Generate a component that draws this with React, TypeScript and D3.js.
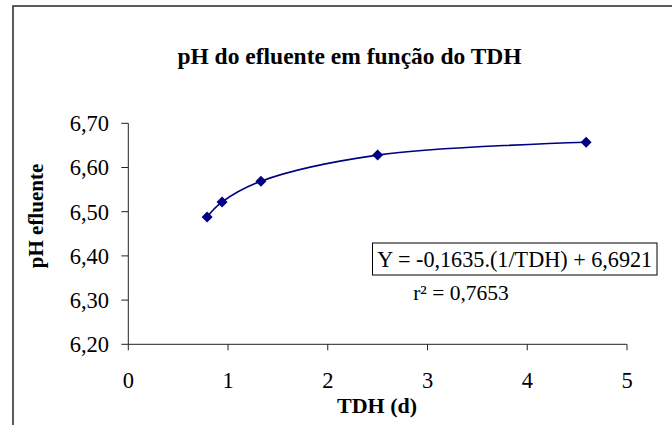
import React from "react";
import * as d3 from "d3";

const tdh = [0.79, 0.94, 1.33, 2.5, 4.59];
const ph = [6.488, 6.522, 6.569, 6.628, 6.657];
const yTicks = [6.2, 6.3, 6.4, 6.5, 6.6, 6.7];
const xTicks = [0, 1, 2, 3, 4, 5];
const title = "pH do efluente em função do TDH";
const xLabel = "TDH (d)";
const yLabel = "pH efluente";
const equation = "Y = -0,1635.(1/TDH) + 6,6921";
const r2 = "r² = 0,7653";

const W = 672;
const H = 425;
const font = "Liberation Serif, DejaVu Serif, serif";

export default function App() {
  const x = d3.scaleLinear().domain([0, 5]).range([128.3, 627]);
  const y = d3.scaleLinear().domain([6.2, 6.7]).range([344.3, 123.3]);
  const pts: [number, number][] = tdh.map((t, i) => [x(t), y(ph[i])]);
  const line = d3.line().curve(d3.curveCatmullRom.alpha(0.5))(pts) || "";
  const fmt = (v: number) => v.toFixed(2).replace(".", ",");
  const axisColor = "#222";
  const ts = { fontFamily: font };
  return (
    <svg
      width={W}
      height={H}
      style={{ position: "absolute", left: 0, top: 0, background: "#fff", fontFamily: font }}
    >
      <rect x={0} y={0} width={W} height={H} fill="#fff" />
      <rect x={13} y={6} width={720} height={520} fill="none" stroke="#333" strokeWidth={1.6} />
      <text x={349.5} y={63.5} textAnchor="middle" fontSize={23.5} fontWeight="bold" fill="#000" style={ts}>
        {title}
      </text>
      {/* y axis */}
      <line x1={x(0)} x2={x(0)} y1={y(6.7)} y2={y(6.2)} stroke={axisColor} strokeWidth={1} />
      {yTicks.map((t) => (
        <g key={t}>
          <line x1={x(0) - 7} x2={x(0)} y1={y(t)} y2={y(t)} stroke={axisColor} strokeWidth={1} />
          <text x={109} y={y(t) + 7.8} textAnchor="end" fontSize={22.5} fill="#000" style={ts}>
            {fmt(t)}
          </text>
        </g>
      ))}
      {/* x axis */}
      <line x1={x(0)} x2={x(5)} y1={y(6.2)} y2={y(6.2)} stroke={axisColor} strokeWidth={1} />
      {xTicks.map((t) => (
        <g key={t}>
          <line x1={x(t)} x2={x(t)} y1={y(6.2)} y2={y(6.2) + 6} stroke={axisColor} strokeWidth={1} />
          <text x={x(t)} y={388} textAnchor="middle" fontSize={22.5} fill="#000" style={ts}>
            {t}
          </text>
        </g>
      ))}
      <text x={377} y={413} textAnchor="middle" fontSize={22} fontWeight="bold" fill="#000" style={ts}>
        {xLabel}
      </text>
      <text
        transform={`translate(43,216) rotate(-90)`}
        textAnchor="middle"
        fontSize={21}
        fontWeight="bold"
        fill="#000"
        style={ts}
      >
        {yLabel}
      </text>
      {/* series */}
      <path d={line} fill="none" stroke="#000080" strokeWidth={1.6} />
      {pts.map(([px, py], i) => (
        <path
          key={i}
          d={`M${px},${py - 5.5}L${px + 5.5},${py}L${px},${py + 5.5}L${px - 5.5},${py}Z`}
          fill="#000080"
        />
      ))}
      {/* equation box */}
      <rect x={372.5} y={243} width={284.5} height={32} fill="#fff" stroke="#000" strokeWidth={1} />
      <text x={514.7} y={266.5} textAnchor="middle" fontSize={22.2} fill="#000" style={ts}>
        {equation}
      </text>
      <text x={461} y={300} textAnchor="middle" fontSize={21.5} fill="#000" style={ts}>
        {r2}
      </text>
    </svg>
  );
}
